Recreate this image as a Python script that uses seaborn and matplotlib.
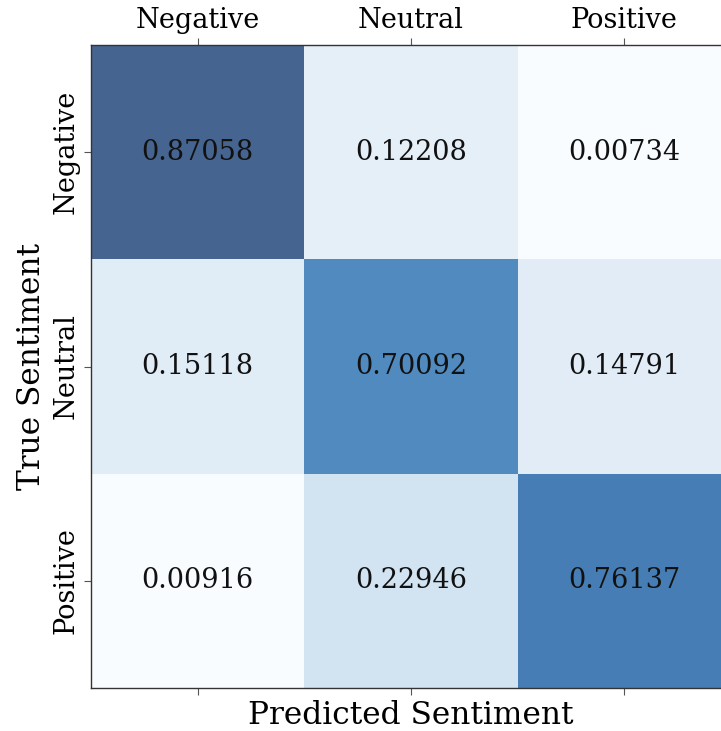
import numpy as np
import pandas as pd
import seaborn as sns
import matplotlib.pyplot as plt

labels = ["Negative", "Neutral", "Positive"]
row_negative = [0.87058, 0.12208, 0.00734]
row_neutral = [0.15118, 0.70092, 0.14791]
row_positive = [0.00916, 0.22946, 0.76137]

df = pd.DataFrame([row_negative, row_neutral, row_positive], index=labels, columns=labels)

plt.rcParams['font.family'] = 'DejaVu Serif'

fig = plt.figure(figsize=(7.21, 7.31), dpi=100)
ax = fig.add_axes([91 / 721, 43 / 731, 640 / 721, (688 - 45) / 731])
sns.heatmap(df, annot=True, fmt=".5f", cmap="Blues", alpha=0.75, cbar=False, ax=ax,
            annot_kws=dict(size=19.5, color="#111111"))

for side in ["left", "bottom", "top"]:
    ax.spines[side].set_visible(True)
    ax.spines[side].set_color("#333333")
    ax.spines[side].set_linewidth(1.0)
ax.spines["right"].set_visible(False)

ax.tick_params(axis="x", top=True, bottom=True, labeltop=True, labelbottom=False,
               labelsize=19.5, length=5, color="#555555", pad=3)
ax.tick_params(axis="y", left=True, labelsize=19.5, length=5, color="#555555", pad=3)
ax.set_yticklabels(labels, rotation=90, va="center")
ax.set_xticklabels(labels, rotation=0)
ax.xaxis.set_label_position("bottom")
ax.set_xlabel("Predicted Sentiment", fontsize=22.5, labelpad=4)
ax.set_ylabel("True Sentiment", fontsize=22.5, labelpad=4)

fig.savefig("out.png", dpi=100)
